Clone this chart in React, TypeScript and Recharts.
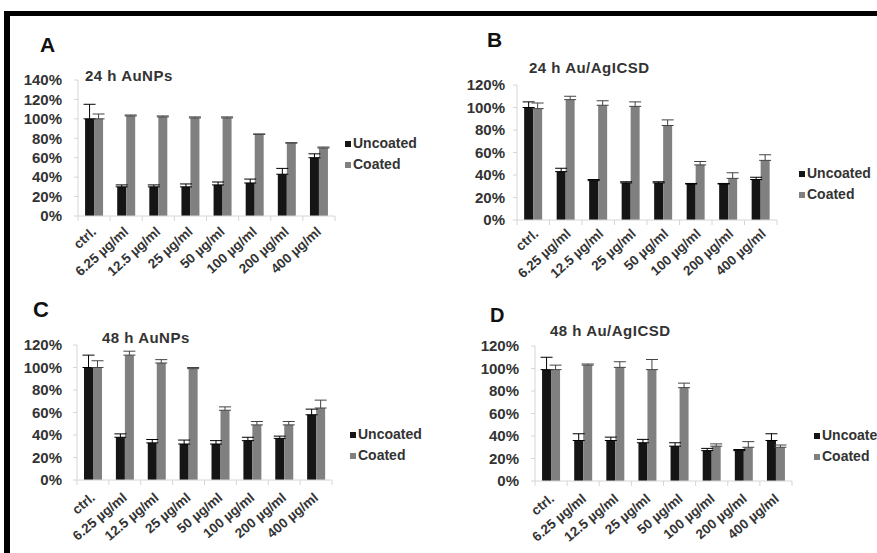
import { Bar, BarChart, ErrorBar, XAxis, YAxis } from 'recharts';

const FONT = '"Liberation Sans", Arial, sans-serif';
const DARK = '#151515';
const GREY = '#808080';
const AXIS = '#d6d6d6';
const TEXT = '#333';

const categories = ['ctrl.', '6.25 µg/ml', '12.5 µg/ml', '25 µg/ml', '50 µg/ml', '100 µg/ml', '200 µg/ml', '400 µg/ml'];

// 24 h AuNPs
const aUncoated = [100, 30, 30, 30, 32, 34, 43, 60];
const aUncoatedErr = [15, 2, 2, 3, 3, 4, 6, 4];
const aCoated = [100, 103, 102, 101, 101, 84, 75, 70];
const aCoatedErr = [5, 1, 1, 1, 1, 0.5, 0.5, 1];

// 24 h Au/AgICSD
const bUncoated = [100, 43, 35, 33, 33, 32, 32, 36];
const bUncoatedErr = [5, 3, 1, 1, 1, 0.5, 0.5, 2];
const bCoated = [99, 107, 102, 101, 84, 49, 37, 53];
const bCoatedErr = [5, 3, 4, 4, 5, 3, 5, 5];

// 48 h AuNPs
const cUncoated = [100, 38, 33, 32, 32, 35, 37, 58];
const cUncoatedErr = [11, 3, 3, 3.5, 3, 3, 2, 5];
const cCoated = [100, 111, 104, 99, 62, 49, 49, 64];
const cCoatedErr = [6, 3.5, 3, 1, 3, 3, 3, 7];

// 48 h Au/AgICSD
const dUncoated = [99, 36, 36, 34, 31, 27, 27, 36];
const dUncoatedErr = [11, 6, 3, 3, 3, 2, 1, 6];
const dCoated = [99, 103, 101, 99, 83, 31, 30, 30];
const dCoatedErr = [4, 1, 5, 9, 4, 2, 5, 2];

const ticks140 = [0, 20, 40, 60, 80, 100, 120, 140];
const ticks120 = [0, 20, 40, 60, 80, 100, 120];

function buildRows(u: number[], ue: number[], c: number[], ce: number[]) {
  return categories.map((name, i) => ({
    name,
    uncoated: u[i],
    uncoatedErr: [0, ue[i]],
    coated: c[i],
    coatedErr: [0, ce[i]],
  }));
}

function CatTick(props: any) {
  const { x, y, payload, lx, ly, fs, ang } = props;
  const half = payload.offset || 16;
  const tx = x + lx;
  const ty = y + ly;
  return (
    <g>
      {payload.index === 0 && <line x1={x - half} x2={x - half} y1={y} y2={y + 5} stroke={AXIS} />}
      <line x1={x + half} x2={x + half} y1={y} y2={y + 5} stroke={AXIS} />
      <text
        x={tx}
        y={ty}
        textAnchor="end"
        transform={`rotate(${ang} ${tx} ${ty})`}
        fill={TEXT}
        fontSize={fs}
        fontWeight={700}
        fontFamily={FONT}
      >
        {payload.value}
      </text>
    </g>
  );
}

type PanelProps = {
  letter: string;
  title: string;
  rows: ReturnType<typeof buildRows>;
  yTicks: number[];
  box: { left: number; top: number; w: number; h: number };
  plot: { l: number; r: number; t: number; b: number };
  yGap: number;
  lab: { lx: number; ly: number; fs: number; ang: number };
  letterPos: { x: number; y: number; fs: number };
  titlePos: { x: number; y: number };
  legendPos: { x: number; y: number };
};

function Panel(p: PanelProps) {
  const { box, plot } = p;
  return (
    <div style={{ position: 'absolute', left: box.left, top: box.top, width: box.w, height: box.h }}>
      <div
        style={{
          position: 'absolute',
          left: p.letterPos.x,
          top: p.letterPos.y,
          fontSize: p.letterPos.fs,
          lineHeight: 1,
          fontWeight: 700,
          fontFamily: FONT,
          color: '#111',
        }}
      >
        {p.letter}
      </div>
      <div
        style={{
          position: 'absolute',
          left: p.titlePos.x,
          top: p.titlePos.y,
          fontSize: 15,
          letterSpacing: '0.5px',
          lineHeight: 1,
          fontWeight: 700,
          fontFamily: FONT,
          color: TEXT,
          whiteSpace: 'nowrap',
        }}
      >
        {p.title}
      </div>
      <BarChart
        width={box.w}
        height={box.h}
        data={p.rows}
        margin={{ top: plot.t, right: box.w - plot.r, bottom: 0, left: 0 }}
        barCategoryGap="22%"
        barGap={0}
        style={{ position: 'absolute', left: 0, top: 0 }}
      >
        <XAxis
          dataKey="name"
          interval={0}
          height={box.h - plot.b}
          axisLine={{ stroke: AXIS }}
          tickLine={false}
          tickSize={0}
          tickMargin={0}
          tick={<CatTick lx={p.lab.lx} ly={p.lab.ly} fs={p.lab.fs} ang={p.lab.ang} />}
        />
        <YAxis
          type="number"
          width={plot.l}
          domain={[0, p.yTicks[p.yTicks.length - 1]]}
          ticks={p.yTicks}
          interval={0}
          tickFormatter={(v: number) => `${v}%`}
          axisLine={{ stroke: AXIS }}
          tickLine={{ stroke: AXIS }}
          tickSize={4}
          tickMargin={p.yGap}
          tick={{ fill: TEXT, fontSize: 15, fontWeight: 700, fontFamily: FONT }}
        />
        <Bar dataKey="uncoated" fill={DARK} isAnimationActive={false}>
          <ErrorBar dataKey="uncoatedErr" direction="y" width={6} stroke="#000" strokeWidth={1} />
        </Bar>
        <Bar dataKey="coated" fill={GREY} isAnimationActive={false}>
          <ErrorBar dataKey="coatedErr" direction="y" width={6} stroke="#444" strokeWidth={1} />
        </Bar>
      </BarChart>
      <div
        style={{
          position: 'absolute',
          left: p.legendPos.x,
          top: p.legendPos.y,
          fontFamily: FONT,
          fontWeight: 700,
          fontSize: 14,
          lineHeight: '21px',
          color: TEXT,
          whiteSpace: 'nowrap',
        }}
      >
        {[
          { name: 'Uncoated', color: DARK },
          { name: 'Coated', color: GREY },
        ].map((it) => (
          <div key={it.name} style={{ display: 'flex', alignItems: 'center' }}>
            <span style={{ display: 'inline-block', width: 6, height: 6, background: it.color, marginRight: 2 }} />
            {it.name}
          </div>
        ))}
      </div>
    </div>
  );
}

export default function App() {
  return (
    <div style={{ position: 'absolute', left: 0, top: 0, width: 877, height: 553, background: '#fff', overflow: 'hidden' }}>
      <div
        style={{
          position: 'absolute',
          left: 4,
          top: 11,
          width: 880,
          height: 560,
          borderTop: '5px solid #000',
          borderLeft: '6px solid #000',
        }}
      />
      <Panel
        letter="A"
        title="24 h AuNPs"
        rows={buildRows(aUncoated, aUncoatedErr, aCoated, aCoatedErr)}
        yTicks={ticks140}
        box={{ left: 0, top: 0, w: 440, h: 300 }}
        plot={{ l: 78, r: 335, t: 80, b: 216 }}
        yGap={12}
        lab={{ lx: 3, ly: 17, fs: 13.5, ang: -42 }}
        letterPos={{ x: 40, y: 34, fs: 21 }}
        titlePos={{ x: 85, y: 68 }}
        legendPos={{ x: 345, y: 133 }}
      />
      <Panel
        letter="B"
        title="24 h Au/AgICSD"
        rows={buildRows(bUncoated, bUncoatedErr, bCoated, bCoatedErr)}
        yTicks={ticks120}
        box={{ left: 440, top: 0, w: 437, h: 300 }}
        plot={{ l: 77, r: 337, t: 85, b: 220 }}
        yGap={8}
        lab={{ lx: 6, ly: 15, fs: 13.5, ang: -42 }}
        letterPos={{ x: 47, y: 29, fs: 21 }}
        titlePos={{ x: 89, y: 60 }}
        legendPos={{ x: 359, y: 163 }}
      />
      <Panel
        letter="C"
        title="48 h AuNPs"
        rows={buildRows(cUncoated, cUncoatedErr, cCoated, cCoatedErr)}
        yTicks={ticks120}
        box={{ left: 0, top: 270, w: 440, h: 283 }}
        plot={{ l: 77, r: 332, t: 75, b: 210 }}
        yGap={11}
        lab={{ lx: 3, ly: 19, fs: 13.5, ang: -40 }}
        letterPos={{ x: 33, y: 29, fs: 22 }}
        titlePos={{ x: 102, y: 60 }}
        legendPos={{ x: 350, y: 154 }}
      />
      <Panel
        letter="D"
        title="48 h Au/AgICSD"
        rows={buildRows(dUncoated, dUncoatedErr, dCoated, dCoatedErr)}
        yTicks={ticks120}
        box={{ left: 440, top: 270, w: 437, h: 283 }}
        plot={{ l: 95, r: 352, t: 76, b: 211 }}
        yGap={12}
        lab={{ lx: 4, ly: 19, fs: 13.5, ang: -40 }}
        letterPos={{ x: 50, y: 35, fs: 20 }}
        titlePos={{ x: 110, y: 53 }}
        legendPos={{ x: 374, y: 155 }}
      />
    </div>
  );
}
